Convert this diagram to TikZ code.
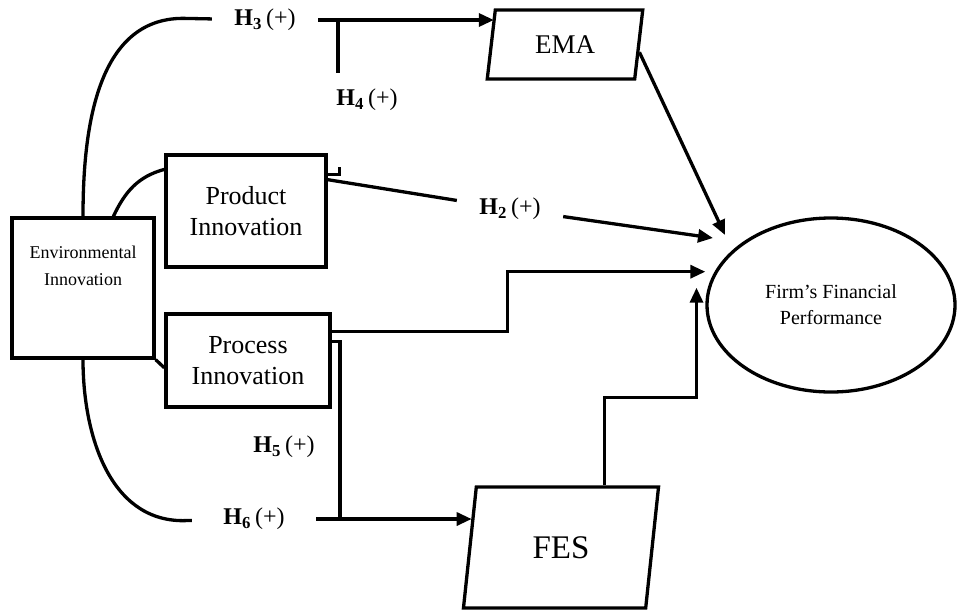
\documentclass[tikz,border=0pt]{standalone}
\usepackage{fontspec}
\setmainfont{Liberation Serif}
\usetikzlibrary{shapes.geometric, arrows.meta}

\begin{document}
\begin{tikzpicture}[x=1pt, y=1pt, line width=3.3pt,
    box/.style={rectangle, draw, align=center},
    para/.style={trapezium, trapezium left angle=79, trapezium right angle=101, trapezium stretches=true, draw, inner sep=0pt},
    hyp/.style={font=\fontsize{24}{28}\selectfont, inner xsep=21pt, inner ysep=4pt},
    arr/.style={-{Triangle[length=15pt, width=13pt]}}]
                % Research model
                \useasboundingbox (0, 0) rectangle (958, -611);
                \node[box, minimum width=142pt, minimum height=140pt, font=\fontsize{18}{27}\selectfont] (env) at (83, -288) {Environmental\\Innovation\\[18pt]~};
                \node[box, minimum width=160pt, minimum height=112pt, font=\fontsize{26}{31}\selectfont] (prod) at (246, -211) {Product\\Innovation};
                \node[box, minimum width=164pt, minimum height=93pt, font=\fontsize{26}{31}\selectfont] (proc) at (248, -360.5) {Process\\Innovation};
                \node[para, minimum width=156pt, minimum height=69pt, font=\fontsize{27}{32}\selectfont] (ema) at (565, -44.5) {EMA};
                \node[para, minimum width=196pt, minimum height=121pt, font=\fontsize{33}{38}\selectfont] (fes) at (561, -547.5) {FES};
                \node[ellipse, draw, minimum width=248pt, minimum height=174pt, align=center, font=\fontsize{20}{26}\selectfont] (firm) at (831, -305) {Firm's Financial\\Performance};

                \node[hyp] (h3) at (265, -20) {\textbf{H\textsubscript{3}}\,(+)};
                \node[hyp] (h4) at (367, -100) {\textbf{H\textsubscript{4}}\,(+)};
                \node[hyp] (h2) at (510, -209) {\textbf{H\textsubscript{2}}\,(+)};
                \node[hyp] (h5) at (284, -447) {\textbf{H\textsubscript{5}}\,(+)};
                \node[hyp, inner xsep=30pt] (h6) at (254, -519) {\textbf{H\textsubscript{6}}\,(+)};

                \coordinate (j4) at (338, -20);
                \coordinate (j6) at (340, -519);
                \coordinate (t1) at (725, -235);
                \coordinate (t2) at (713, -238);

                \draw (env.north) to[out=90, in=180] ++(100, 198) -- (h3);
                \draw[arr] (h3) -- (h3 -| ema.top left corner);
                \draw (j4) -- ++(0, -53);
                \draw (prod.24) -| ++(12, 8);
                \draw (env.67) to[out=65, in=195] (prod.153);
                \draw (env.south east) -- (proc.185);
                \draw (prod.21) -- (h2);
                \draw[arr] (h2) -- (t2);
                \draw[arr] (ema.-6) -- (t1);
                \draw[arr] (proc.19) -| ++(176, 60) coordinate (k1) -- (k1 -| firm.west);
                \draw[arr] (proc.13) -| (j6) -- (j6 -| fes.160);
                \draw (env.south) to[out=-90, in=180] ++(100, -161) -- (h6);
                \draw (h6) -- (j6);
                \draw[arr] (fes.55) |- ++(92, 88) coordinate (k2) -- (k2 |- firm.172);
\end{tikzpicture}
\end{document}
